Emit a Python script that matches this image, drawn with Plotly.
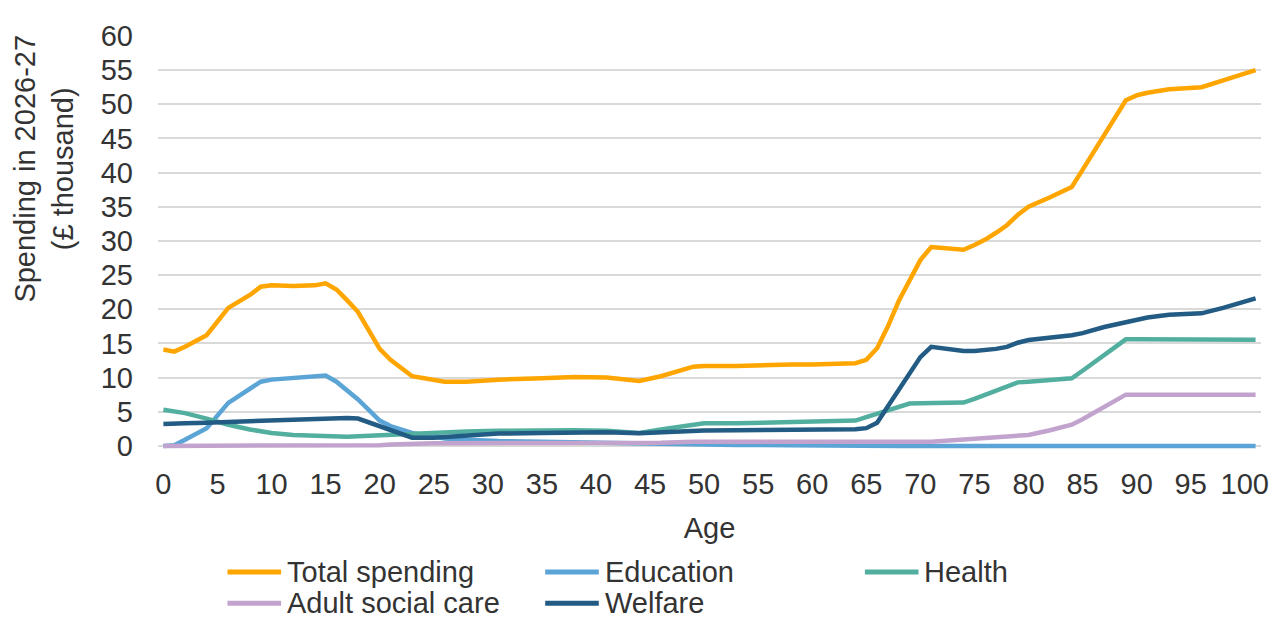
import plotly.graph_objects as go

# ---- data ----
ages = [0, 1, 2, 4, 6, 8, 9, 10, 12, 14, 15, 16, 17, 18, 20, 21, 23, 25, 26, 28,
        31, 35, 38, 41, 44, 46, 49, 50, 53, 58, 60, 64, 65, 66, 67, 68, 69, 70, 71, 72,
        74, 75, 76, 77, 78, 79, 80, 82, 84, 85, 87, 89, 90, 91, 93, 95, 96, 98, 100, 101]

total_spending = [14.1, 13.8, 14.5, 16.2, 20.2, 22.1, 23.3, 23.5, 23.4, 23.5,
                  23.8, 22.9, 21.3, 19.6, 14.2, 12.6, 10.2, 9.6, 9.4, 9.4,
                  9.7, 9.9, 10.1, 10.0, 9.5, 10.2, 11.6, 11.7, 11.7, 11.9,
                  11.9, 12.1, 12.6, 14.3, 17.5, 21.2, 24.2, 27.2, 29.1, 29.0,
                  28.7, 29.4, 30.2, 31.2, 32.3, 33.8, 35.0, 36.4, 37.9, 40.4,
                  45.5, 50.6, 51.3, 51.7, 52.2, 52.3, 52.5, 53.5, 54.5, 55.0]

education = [0.0, 0.1, 0.9, 2.6, 6.3, 8.4, 9.4, 9.7, 10.0, 10.2,
             10.3, 9.4, 8.2, 6.8, 3.7, 2.9, 1.9, 1.3, 1.1, 0.9,
             0.7, 0.6, 0.5, 0.45, 0.35, 0.3, 0.2, 0.2, 0.15, 0.1,
             0.05, 0.02, 0.0, 0.0, 0.0, 0.0, 0.0, 0.0, 0.0, 0.0,
             0.0, 0.0, 0.0, 0.0, 0.0, 0.0, 0.0, 0.0, 0.0, 0.0,
             0.0, 0.0, 0.0, 0.0, 0.0, 0.0, 0.0, 0.0, 0.0, 0.0]

health = [5.3, 5.1, 4.8, 4.0, 3.1, 2.4, 2.1, 1.9, 1.6, 1.45,
          1.4, 1.35, 1.35, 1.4, 1.55, 1.65, 1.85, 1.9, 1.95, 2.1,
          2.2, 2.3, 2.3, 2.2, 1.9, 2.4, 3.2, 3.3, 3.3, 3.5,
          3.55, 3.7, 4.2, 4.7, 5.2, 5.7, 6.2, 6.25, 6.3, 6.3,
          6.35, 6.9, 7.5, 8.1, 8.7, 9.3, 9.4, 9.6, 9.9, 11.0,
          13.3, 15.6, 15.6, 15.6, 15.6, 15.6, 15.55, 15.55, 15.55, 15.55]

adult_social_care = [0.0, 0.0, 0.0, 0.0, 0.0, 0.0, 0.0, 0.0, 0.0, 0.0,
                     0.0, 0.0, 0.0, 0.0, 0.1, 0.2, 0.35, 0.4, 0.4, 0.4,
                     0.4, 0.4, 0.4, 0.4, 0.4, 0.45, 0.6, 0.6, 0.6, 0.6,
                     0.6, 0.6, 0.6, 0.6, 0.55, 0.5, 0.5, 0.5, 0.6, 0.7,
                     0.9, 1.0, 1.1, 1.2, 1.35, 1.5, 1.6, 2.3, 3.1, 3.9,
                     5.7, 7.5, 7.5, 7.5, 7.5, 7.5, 7.5, 7.5, 7.5, 7.5]

welfare = [3.2, 3.2, 3.3, 3.4, 3.5, 3.7, 3.8, 3.8, 3.9, 4.0,
           4.1, 4.1, 4.1, 4.0, 2.9, 2.3, 1.2, 1.2, 1.3, 1.5,
           1.8, 1.9, 2.0, 2.0, 1.85, 2.0, 2.2, 2.25, 2.3, 2.35,
           2.35, 2.45, 2.6, 3.4, 5.8, 8.2, 10.6, 13.0, 14.5, 14.3,
           13.9, 13.9, 14.0, 14.2, 14.5, 15.1, 15.5, 15.8, 16.2, 16.5,
           17.4, 18.1, 18.5, 18.8, 19.2, 19.3, 19.4, 20.2, 21.2, 21.6]

series_names = ["Total spending", "Education", "Health", "Adult social care", "Welfare"]
series_values = [total_spending, education, health, adult_social_care, welfare]
series_colors = ["#FFA500", "#5BA4D6", "#52AF9F", "#C2A3CE", "#225B83"]

x_tick_vals = list(range(0, 101, 5))
y_tick_vals = list(range(0, 61, 5))

# ---- layout constants (pixels) ----
# The page body has an 8px default margin, so the figure is drawn 8px smaller
# and all page-pixel targets are shifted by that offset.
OFF = 8
W, H = 1281 - OFF, 619 - OFF
ML, MR, MT, MB = 158 - OFF, 12, 26 - OFF, 169
PW, PH = W - ML - MR, H - MT - MB
FONT = "Liberation Sans, Arial, sans-serif"
TXT = "#333333"


def px_x(px):
    return (px - OFF - ML) / PW


def px_y(py):
    return (H - MB - (py - OFF)) / PH


fig = go.Figure()
for name, vals, col in zip(series_names, series_values, series_colors):
    fig.add_trace(go.Scatter(
        x=ages, y=vals, name=name, mode="lines",
        line=dict(color=col, width=4.5), showlegend=False,
    ))

# manual legend (Excel style: long line samples, 3 columns)
legend_pos = [(228, 575), (548, 575), (870, 575), (228, 607), (548, 607)]
shapes = []
annotations = []
for (lx, ly), name, col in zip(legend_pos, series_names, series_colors):
    shapes.append(dict(type="line", xref="paper", yref="paper",
                       x0=px_x(lx), x1=px_x(lx + 54), y0=px_y(ly), y1=px_y(ly),
                       line=dict(color=col, width=5)))
    annotations.append(dict(text=name, xref="paper", yref="paper",
                            x=px_x(lx + 58), y=px_y(ly), xanchor="left", yanchor="middle",
                            showarrow=False, font=dict(family=FONT, size=29, color=TXT)))

# y-axis title (two lines, rotated)
annotations.append(dict(text="Spending in 2026-27<br>(£ thousand)", xref="paper", yref="paper",
                        x=px_x(43), y=px_y(162), xanchor="center", yanchor="middle",
                        textangle=-90, showarrow=False,
                        font=dict(family=FONT, size=29, color=TXT)))

fig.update_layout(
    width=W, height=H,
    margin=dict(l=ML, r=MR, t=MT, b=MB, pad=0),
    paper_bgcolor="white", plot_bgcolor="white",
    font=dict(family=FONT, size=29, color=TXT),
    shapes=shapes, annotations=annotations,
    showlegend=False,
)
fig.update_xaxes(
    range=[-0.5, 101.5], tickmode="array", tickvals=x_tick_vals,
    showgrid=False, zeroline=False, showline=False, ticks="",
    tickfont=dict(family=FONT, size=29, color=TXT), ticklabelstandoff=14,
    title=dict(text="Age", font=dict(family=FONT, size=29, color=TXT), standoff=18),
)
fig.update_yaxes(
    range=[-0.6, 60], tickmode="array", tickvals=y_tick_vals,
    showgrid=True, gridcolor="#D9D9D9", gridwidth=1.5,
    zeroline=False, showline=False, ticks="",
    tickfont=dict(family=FONT, size=29, color=TXT), ticklabelstandoff=24,
)

fig.write_html("out.html")
